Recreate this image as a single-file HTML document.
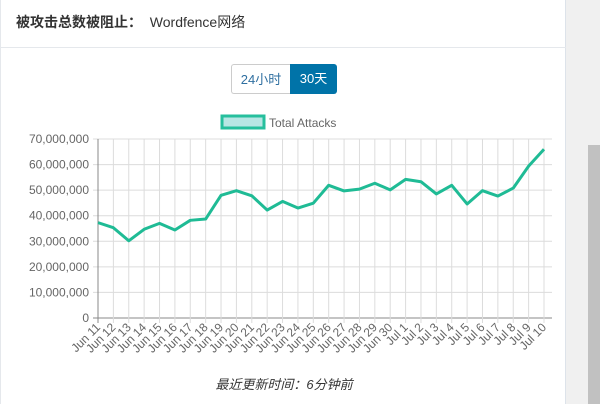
<!DOCTYPE html>
<html><head><meta charset="utf-8">
<style>
body{margin:0;width:600px;height:404px;overflow:hidden;background:#f0f0f0;font-family:"Liberation Sans","Noto Sans CJK SC",sans-serif;position:relative}
#card{position:absolute;left:0;top:0;width:566px;height:404px;background:#fff;border-right:1px solid #dde3ea;border-left:1px solid #e5e8ec;box-sizing:border-box}
#head{position:absolute;left:0;top:0;width:565px;height:47px;border-bottom:1px solid #e5e8ec}
#title{position:absolute;left:15px;top:12px;font-size:14px;color:#333}
#title b{font-weight:bold}
#thumb{position:absolute;left:588px;top:145px;width:12px;height:259px;background:#c1c1c1}
.btn{position:absolute;top:64px;height:30px;line-height:30px;font-size:13px;text-align:center;box-sizing:border-box}
#b24{left:230px;width:59px;border:1px solid #ccc;border-right:none;color:#2f6fa0;border-radius:3px 0 0 3px;background:#fff}
#b30{left:289px;width:47px;background:#0073a8;color:#fff;border-radius:0 3px 3px 0}
#upd{position:absolute;left:0;width:566px;top:374px;text-align:center;font-size:13px;font-style:italic;color:#333}
</style></head><body>
<div id="card">
<div id="head">
<div id="title"><b>被攻击总数被阻止：</b>&nbsp; Wordfence网络</div>
</div>
<div class="btn" id="b24">24小时</div>
<div class="btn" id="b30">30天</div>
<svg id="chart" width="566" height="404" style="position:absolute;left:0;top:0"></svg>
<div id="upd">最近更新时间：6分钟前</div>
</div>
<div id="thumb"></div>
<script>
const categories=["Jun 11","Jun 12","Jun 13","Jun 14","Jun 15","Jun 16","Jun 17","Jun 18","Jun 19","Jun 20","Jun 21","Jun 22","Jun 23","Jun 24","Jun 25","Jun 26","Jun 27","Jun 28","Jun 29","Jun 30","Jul 1","Jul 2","Jul 3","Jul 4","Jul 5","Jul 6","Jul 7","Jul 8","Jul 9","Jul 10"];
const attacks=[37.3,35.3,30.2,34.7,37.0,34.4,38.2,38.7,48.0,49.8,47.8,42.2,45.6,43.0,44.9,51.9,49.7,50.4,52.7,50.1,54.2,53.3,48.5,51.9,44.6,49.8,47.7,50.8,59.4,66.0];
const yTicks=[0,10,20,30,40,50,60,70];
const yTickLabels=["0","10,000,000","20,000,000","30,000,000","40,000,000","50,000,000","60,000,000","70,000,000"];
const NS="http://www.w3.org/2000/svg";
const svg=document.getElementById('chart');
const X0=97,X1=543,Y0=318,Y1=139,RIGHT=551;
function xs(i){return X0+(X1-X0)*i/(categories.length-1);}
function ys(v){return Y0-(Y0-Y1)*v/70;}
function mk(t,a){const e=document.createElementNS(NS,t);for(const k in a)e.setAttribute(k,a[k]);svg.appendChild(e);return e;}
yTicks.forEach((v,i)=>{
 const g=mk('line',{x1:92,x2:RIGHT,y1:ys(v),y2:ys(v),stroke:v===0?'#888':'#dcdcdc','stroke-width':1});
 
 
 const t=mk('text',{x:88,y:ys(v)+4,'text-anchor':'end','font-size':12,fill:'#666','font-family':'Liberation Sans, sans-serif'});
 t.textContent=yTickLabels[i];
 
 
});
categories.forEach((c,i)=>{
 const x=xs(i);
 const g=mk('line',{x1:x,x2:x,y1:Y1,y2:Y0+5,stroke:i===0?'#888':'#dcdcdc','stroke-width':1});
 
 
 const t=mk('text',{x:x+3,y:Y0+10,'text-anchor':'end','font-size':12,fill:'#666','font-family':'Liberation Sans, sans-serif',transform:`rotate(-45 ${x+3} ${Y0+10})`});
 t.textContent=c;
 
 
});
const line=mk('polyline',{points:attacks.map((v,i)=>xs(i)+','+ys(v)).join(' '),fill:'none',stroke:'#1fbb95','stroke-width':3,'stroke-linejoin':'round'});


const lb=mk('rect',{x:221,y:116,width:42,height:12,fill:'#b8e6e4',stroke:'#26bf9d','stroke-width':3});


const lt=mk('text',{x:268,y:127,'font-size':12,fill:'#666','font-family':'Liberation Sans, sans-serif'});
lt.textContent='Total Attacks';


</script>
</body></html>
